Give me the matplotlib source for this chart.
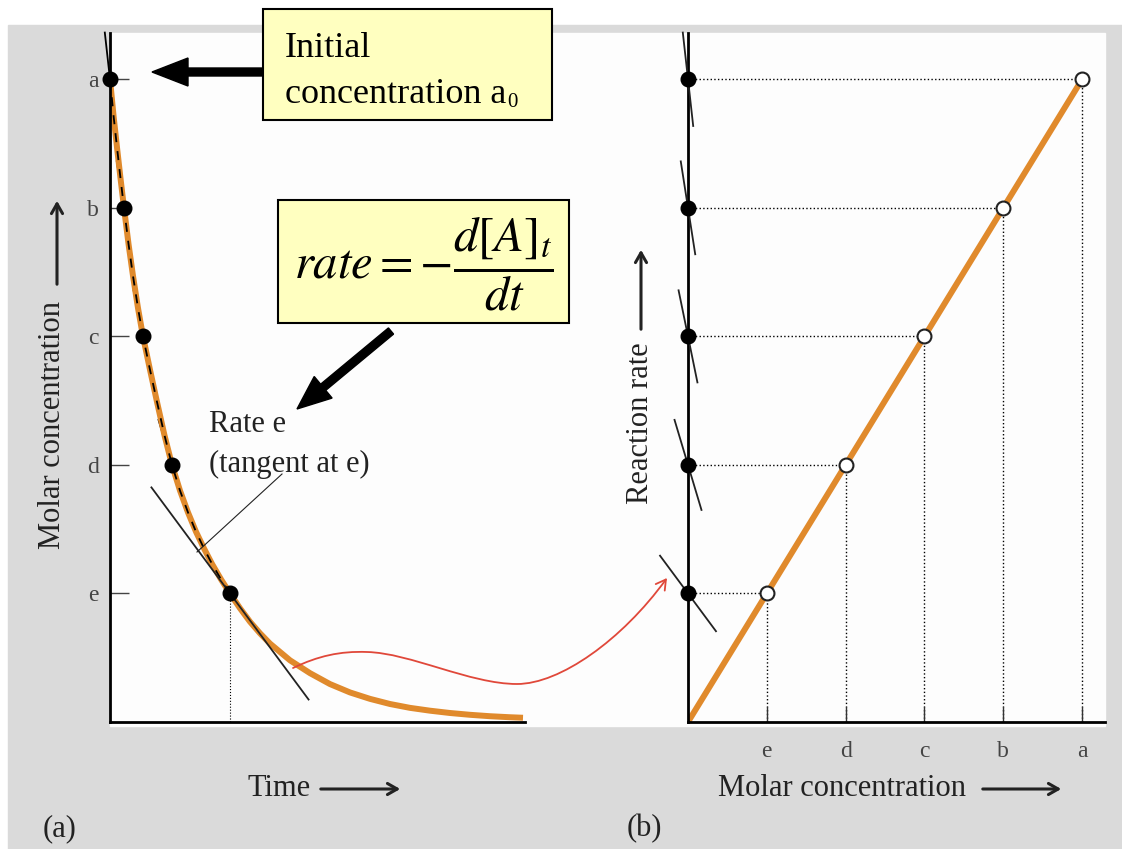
import numpy as np
import matplotlib.pyplot as plt
from matplotlib.patches import Rectangle, FancyArrow, FancyArrowPatch
from matplotlib.path import Path

plt.rcParams['font.family'] = ['Liberation Serif', 'DejaVu Serif']
plt.rcParams['mathtext.fontset'] = 'stix'

# levels a..e (molar concentration), and when the decay curve reaches them
labels = ['a', 'b', 'c', 'd', 'e']
conc = [5.0, 4.0, 3.0, 2.0, 1.0]
t_pts = [0.0, 0.14, 0.33, 0.62, 1.20]

# decay curve
curve_t = [0.0, 0.035, 0.07, 0.105, 0.14, 0.185, 0.23, 0.28, 0.33, 0.40, 0.47, 0.545,
           0.62, 0.70, 0.78, 0.86, 0.94, 1.02, 1.11, 1.20,
           1.30, 1.40, 1.50, 1.60, 1.70, 1.80, 1.90, 2.00, 2.20, 2.40, 2.60, 2.80,
           3.00, 3.20, 3.40, 3.60, 3.80, 4.00, 4.13]
curve_c = [5.0, 4.72, 4.47, 4.23, 4.0, 3.72, 3.47, 3.22, 3.0, 2.74, 2.49, 2.23,
           2.0, 1.80, 1.63, 1.48, 1.35, 1.23, 1.11, 1.0,
           0.885, 0.78, 0.69, 0.61, 0.545, 0.48, 0.43, 0.38, 0.295, 0.23, 0.18, 0.14,
           0.11, 0.088, 0.07, 0.056, 0.045, 0.037, 0.033]

# slope of the tangent at each level (dc/dt) -> reaction rate
tan_slope = [-7.0, -5.0, -3.8, -2.6, -1.05]
rate = [5.0, 4.0, 3.0, 2.0, 1.0]

orange = '#e08a2c'
W, H = 1122, 849
fig = plt.figure(figsize=(W / 100, H / 100), dpi=100)


def box(x0, y0, x1, y1):
    return [x0 / W, 1 - y1 / H, (x1 - x0) / W, (y1 - y0) / H]


# background
bg = fig.add_axes([0, 0, 1, 1], zorder=0)
bg.set_xlim(0, W); bg.set_ylim(H, 0); bg.axis('off')
bg.add_patch(Rectangle((8, 25), W - 8, H - 25, color='#dadada'))
bg.add_patch(Rectangle((110, 33), 995, 693, color='#fdfdfd'))

# panel (a)
ax1 = fig.add_axes(box(110, 33, 525, 722), zorder=1)
ax1.set_xlim(0, 4.15); ax1.set_ylim(0, 5.36)
# panel (b)
ax2 = fig.add_axes(box(688, 33, 1105, 722), zorder=1)
ax2.set_xlim(0, 5.29); ax2.set_ylim(0, 5.36)

for ax in (ax1, ax2):
    ax.patch.set_visible(False)
    ax.spines[['top', 'right']].set_visible(False)
    ax.spines[['left', 'bottom']].set_linewidth(2.0)

px_t = 415 / 4.15
py_c = 689 / 5.36
px_x2 = 417 / 5.29


def seg(slope, half, sx):
    m = slope * py_c / px_t
    n = np.hypot(1, m)
    return half / n / sx, half * m / n / py_c


# panel (a) drawing
for t, c, s in zip(t_pts[:4], conc[:4], tan_slope[:4]):
    dx, dy = seg(s, 47, px_t)
    ax1.plot([t - dx, t + dx], [c - dy, c + dy], color='k', lw=1.3, zorder=1, clip_on=False)
ax1.plot(curve_t, curve_c, color=orange, lw=4.3, zorder=2, solid_capstyle='butt',
         solid_joinstyle='round')
ax1.plot(curve_t[:20], curve_c[:20], color='k', lw=1.3, ls=(0, (5, 5)), zorder=3)
dx, dy = seg(tan_slope[4], 132, px_t)
ax1.plot([t_pts[4] - dx, t_pts[4] + dx], [conc[4] - dy, conc[4] + dy], color='#222', lw=1.3, zorder=3)
ax1.plot([t_pts[4], t_pts[4]], [0, conc[4]], color='k', lw=0.8, ls=':', zorder=1)
ax1.plot(t_pts, conc, 'o', color='k', ms=10.5, zorder=4, clip_on=False)
ax1.set_xticks([])
ax1.set_yticks(conc, labels)
ax1.tick_params(axis='y', direction='in', length=14, width=1, color='#444',
                labelsize=17, labelcolor='#444', pad=8)

# panel (b) drawing
ax2.plot([0] + conc[::-1], [0] + rate[::-1], color=orange, lw=4.3, zorder=2)
for c, r, s in zip(conc, rate, tan_slope):
    ax2.plot([0, c], [r, r], color='k', lw=1, ls=':', zorder=1)
    ax2.plot([c, c], [0, r], color='k', lw=1, ls=':', zorder=1)
    dx, dy = seg(s, 47, px_x2)
    ax2.plot([-dx, dx], [r - dy, r + dy], color='#222', lw=1.3, zorder=3, clip_on=False)
ax2.plot([0] * len(rate), rate, 'o', color='k', ms=10.5, zorder=4, clip_on=False)
ax2.plot(conc, rate, 'o', mfc='white', mec='#222', mew=1.5, ms=10, zorder=4)
ax2.set_yticks([])
ax2.set_xticks(conc, labels)
ax2.tick_params(axis='x', direction='in', length=11, width=1, color='#333',
                labelsize=17, labelcolor='#444', pad=14)

# overlay: labels, callouts, arrows
fg = fig.add_axes([0, 0, 1, 1], zorder=2)
fg.set_xlim(0, W); fg.set_ylim(H, 0); fg.axis('off')
fg.patch.set_visible(False)

txt = dict(color='#222', fontsize=22)
arr = dict(arrowstyle='->,head_length=0.7,head_width=0.4', lw=2.2, color='#222')
fg.text(248, 789, 'Time', va='center', ha='left', **txt)
fg.annotate('', xy=(403, 789), xytext=(318, 789), arrowprops=arr)
fg.text(718, 789, 'Molar concentration', va='center', ha='left', **txt)
fg.annotate('', xy=(1064, 789), xytext=(980, 789), arrowprops=arr)
fg.text(53, 425, 'Molar concentration', va='center', ha='center', rotation=90, **txt)
fg.annotate('', xy=(57, 198), xytext=(57, 287), arrowprops=arr)
fg.text(641, 423, 'Reaction rate', va='center', ha='center', rotation=90, **txt)
fg.annotate('', xy=(641, 247), xytext=(641, 332), arrowprops=arr)
fg.text(43, 829, '(a)', va='center', ha='left', **txt)
fg.text(627, 829, '(b)', va='center', ha='left', **txt)

fg.text(209, 424, 'Rate e', va='center', ha='left', color='#222', fontsize=22)
fg.text(209, 464, '(tangent at e)', va='center', ha='left', color='#222', fontsize=22)
fg.plot([282, 197], [474, 552], color='#222', lw=0.8)

# callout boxes
fg.add_patch(Rectangle((263, 9), 289, 111, fc='#ffffc0', ec='k', lw=1.5))
fg.text(285, 57, 'Initial', va='baseline', ha='left', fontsize=26, color='k')
t0 = fg.text(285, 103, 'concentration a', va='baseline', ha='left', fontsize=26, color='k')
fg.annotate('0', xy=(1, 0), xycoords=t0, xytext=(1, -1), textcoords='offset points',
            va='bottom', ha='left', fontsize=15, color='k')
fg.add_patch(FancyArrow(263, 72, -111, 0, width=8, head_width=28, head_length=36,
                        length_includes_head=True, color='k'))

fg.add_patch(Rectangle((278, 200), 291, 123, fc='#ffffc0', ec='k', lw=1.5))
fg.text(424, 264, r'$rate = -\dfrac{d\left[A\right]_t}{dt}$', va='center', ha='center',
        fontsize=35, color='k')
fg.add_patch(FancyArrow(391, 331, -94, 78, width=8, head_width=28, head_length=34,
                        length_includes_head=True, color='k'))

# red wavy arrow from the tangent at e to the rate axis
verts = [(293, 668), (318, 656), (340, 651), (367, 652),
         (410, 653), (470, 684), (517, 684),
         (560, 684), (622, 640), (667, 578)]
codes = [Path.MOVETO] + [Path.CURVE4] * 9
fg.add_patch(FancyArrowPatch(path=Path(verts, codes),
                             arrowstyle='->,head_length=7,head_width=4',
                             color='#e0483a', lw=1.3))

fig.savefig('out.png', dpi=100)
